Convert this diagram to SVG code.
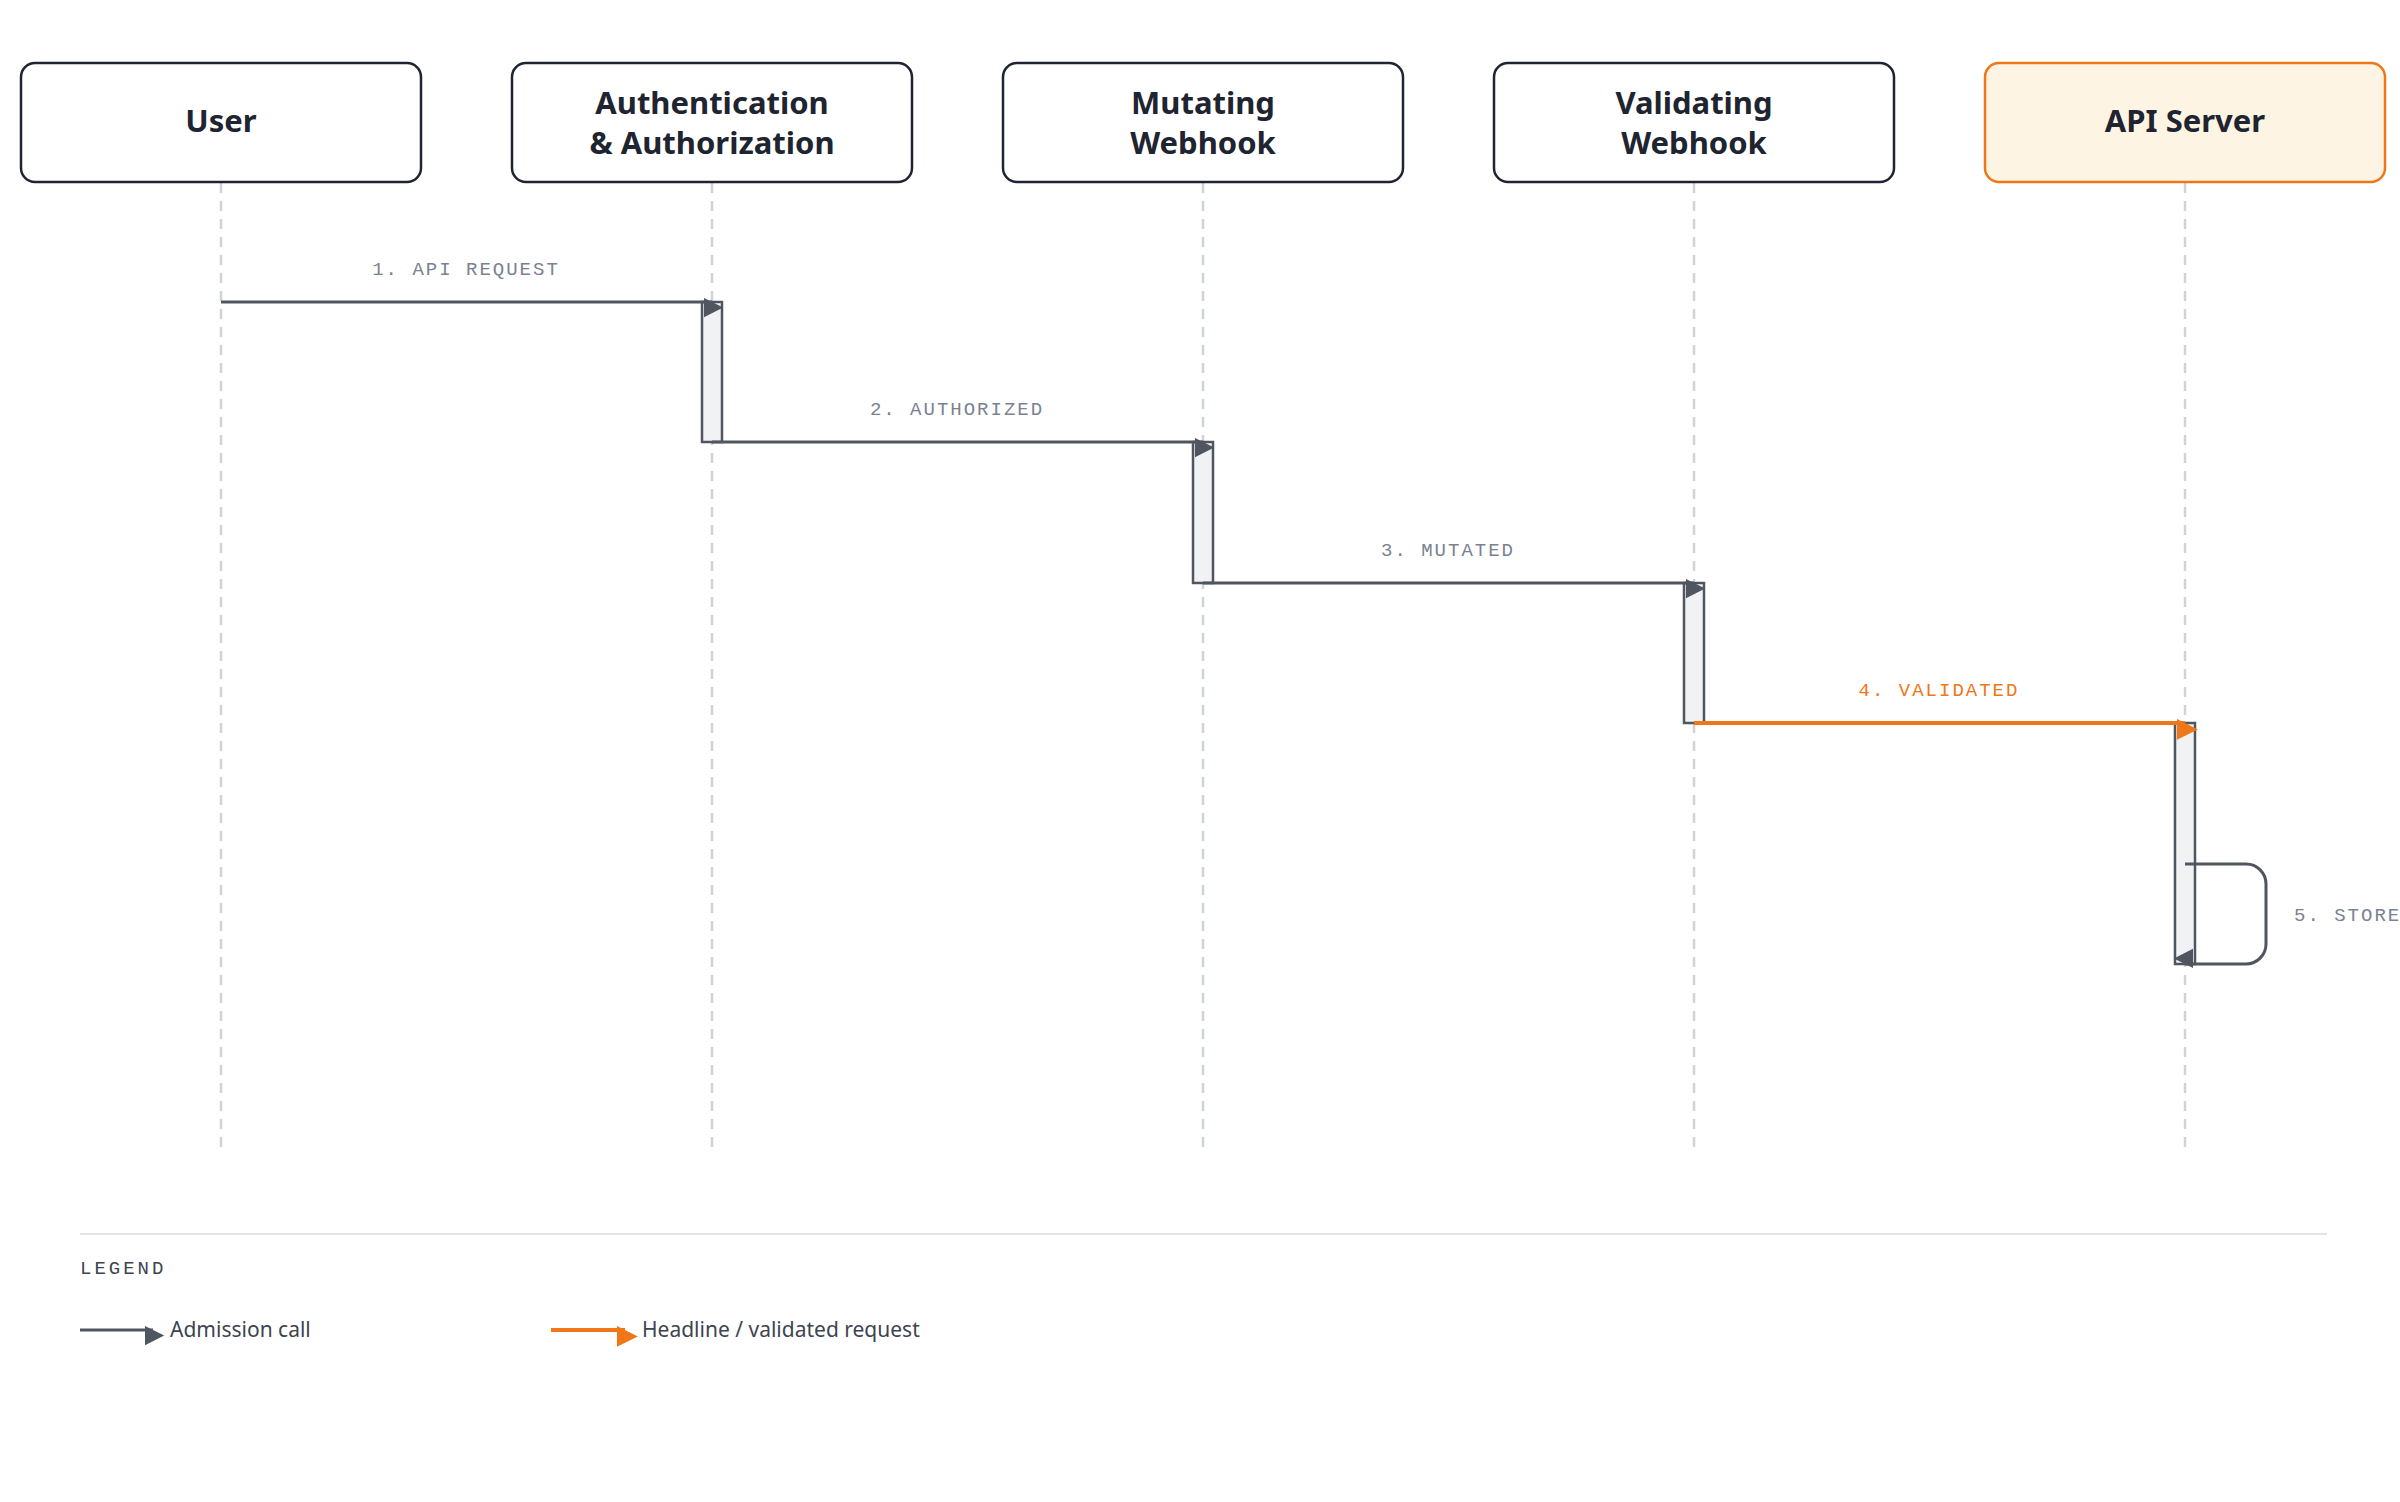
<svg xmlns="http://www.w3.org/2000/svg" width="2400" height="1502" viewBox="0 0 2400 1502">
<style>
.box{fill:#fff;stroke:#1e2430;stroke-width:2.5}
.t{font-family:"Noto Sans",sans-serif;font-weight:700;font-size:31px;fill:#1e2430;text-anchor:middle}
.life{stroke:#cfd2d6;stroke-width:2.5;stroke-dasharray:10 8}
.act{fill:#f1f2f4;stroke:#4f5660;stroke-width:2.5}
.lbl{font-family:"Liberation Mono",monospace;font-size:19px;fill:#7a8290;letter-spacing:2px;text-anchor:middle}
.msg{stroke:#4f5660;stroke-width:3;fill:none}
.hot{stroke:#ef7718;stroke-width:4;fill:none}
.lg{font-family:"Noto Sans",sans-serif;font-size:21px;fill:#3d4450}
</style>
<defs>
<marker id="ag" viewBox="0 0 10 10" refX="10" refY="5" markerWidth="8" markerHeight="8" markerUnits="userSpaceOnUse" orient="auto" style="overflow:visible"><path d="M0,0L10,5L0,10Z" fill="#4f5660" transform="scale(2.4)"/></marker>
<marker id="ao" viewBox="0 0 10 10" refX="10" refY="5" markerWidth="8" markerHeight="8" markerUnits="userSpaceOnUse" orient="auto" style="overflow:visible"><path d="M0,0L10,5L0,10Z" fill="#ef7718" transform="scale(2.6)"/></marker>
</defs>
<rect width="2400" height="1502" fill="#fff"/>
<g id="lifelines">
<line class="life" x1="221" y1="183" x2="221" y2="1152"/>
<line class="life" x1="712" y1="183" x2="712" y2="1152"/>
<line class="life" x1="1203" y1="183" x2="1203" y2="1152"/>
<line class="life" x1="1694" y1="183" x2="1694" y2="1152"/>
<line class="life" x1="2185" y1="183" x2="2185" y2="1152"/>
</g>
<g id="user"><rect class="box" x="21" y="63" width="400" height="119" rx="14"/><text class="t" x="221" y="132">User</text></g>
<g id="auth"><rect class="box" x="512" y="63" width="400" height="119" rx="14"/><text class="t" x="712" y="114">Authentication</text><text class="t" x="712" y="154">&amp; Authorization</text></g>
<g id="mutating"><rect class="box" x="1003" y="63" width="400" height="119" rx="14"/><text class="t" x="1203" y="114">Mutating</text><text class="t" x="1203" y="154">Webhook</text></g>
<g id="validating"><rect class="box" x="1494" y="63" width="400" height="119" rx="14"/><text class="t" x="1694" y="114">Validating</text><text class="t" x="1694" y="154">Webhook</text></g>
<g id="apiserver"><rect x="1985" y="63" width="400" height="119" rx="14" fill="#fef4e3" stroke="#ef7718" stroke-width="2.5"/><text class="t" x="2185" y="132">API Server</text></g>
<g id="activations">
<rect class="act" x="702" y="302" width="20" height="140"/>
<rect class="act" x="1193" y="442" width="20" height="141"/>
<rect class="act" x="1684" y="583" width="20" height="140"/>
<rect class="act" x="2175" y="723" width="20" height="241"/>
</g>
<g id="connectors">
<line class="msg" x1="221" y1="302" x2="712" y2="302" marker-end="url(#ag)"/>
<text class="lbl" x="466" y="275">1. API REQUEST</text>
<line class="msg" x1="712" y1="442" x2="1203" y2="442" marker-end="url(#ag)"/>
<text class="lbl" x="957" y="415">2. AUTHORIZED</text>
<line class="msg" x1="1203" y1="583" x2="1694" y2="583" marker-end="url(#ag)"/>
<text class="lbl" x="1448" y="556">3. MUTATED</text>
<line class="hot" x1="1694" y1="723" x2="2185" y2="723" marker-end="url(#ao)"/>
<text class="lbl" x="1939" y="696" style="fill:#ef7718">4. VALIDATED</text>
<path class="msg" d="M2185,864H2246a20,20 0 0 1 20,20V944a20,20 0 0 1 -20,20H2185" marker-end="url(#ag)"/>
<text class="lbl" x="2294" y="921" style="text-anchor:start">5. STORE</text>
</g>
<g id="legend">
<line x1="80" y1="1234" x2="2327" y2="1234" stroke="#e3e4e6" stroke-width="2"/>
<text x="80" y="1274" font-family="Liberation Mono,monospace" font-size="19" fill="#3d4450" letter-spacing="3">LEGEND</text>
<line class="msg" x1="80" y1="1330" x2="153" y2="1330" marker-end="url(#ag)"/>
<text class="lg" x="170" y="1337">Admission call</text>
<line class="hot" x1="551" y1="1330" x2="625" y2="1330" marker-end="url(#ao)"/>
<text class="lg" x="642" y="1337">Headline / validated request</text>
</g>
</svg>
